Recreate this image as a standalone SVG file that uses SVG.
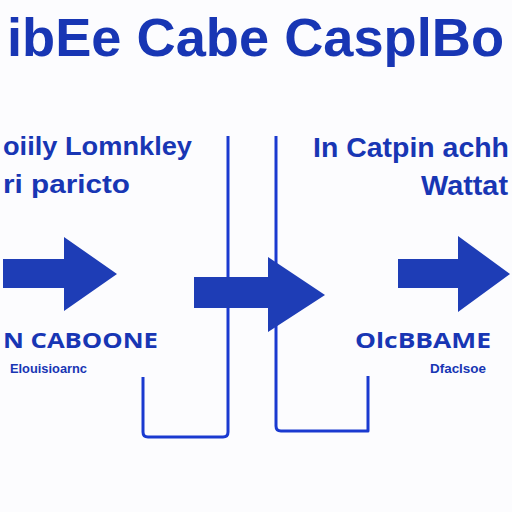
<svg xmlns="http://www.w3.org/2000/svg" width="512" height="512" viewBox="0 0 512 512">
<style>
.t{font-family:"Open Sans","Liberation Sans",sans-serif;font-weight:bold;fill:#1836b4}
.h{font-family:"Liberation Sans",Arial,sans-serif;font-weight:bold;fill:#1836b4}
.n{font-family:"Liberation Sans",Arial,sans-serif;font-weight:bold;fill:#1836b4}
.arr{fill:#1e3db6}
.ln{fill:none;stroke:#1a3ad0;stroke-width:3;stroke-linejoin:round}
</style>
<rect width="512" height="512" fill="#fcfcfe"/>
<g id="title"><text class="h" x="7" y="56" font-size="54" textLength="497" lengthAdjust="spacingAndGlyphs">ibEe Cabe CasplBo</text></g>
<g id="node-left">
<text class="n" x="3" y="155" font-size="25" textLength="189" lengthAdjust="spacingAndGlyphs">oiily Lomnkley</text>
<text class="n" x="3" y="193" font-size="25" textLength="127" lengthAdjust="spacingAndGlyphs">ri paricto</text>
<text class="t" x="3" y="348" font-size="21" textLength="155" lengthAdjust="spacingAndGlyphs">N CABOONE</text>
<text class="n" x="10" y="373" font-size="12" textLength="77" lengthAdjust="spacingAndGlyphs">Elouisioarnc</text>
</g>
<g id="node-right">
<text class="n" x="313" y="157" font-size="28" textLength="196" lengthAdjust="spacingAndGlyphs">In Catpin achh</text>
<text class="n" x="421" y="195" font-size="28" textLength="87" lengthAdjust="spacingAndGlyphs">Wattat</text>
<text class="t" x="355" y="348" font-size="21" textLength="136" lengthAdjust="spacingAndGlyphs">OlcBBAME</text>
<text class="n" x="430" y="373" font-size="12" textLength="56" lengthAdjust="spacingAndGlyphs">Dfaclsoe</text>
</g>
<g id="connectors">
<path class="ln" d="M143 377 V432 Q143 437 148 437 H223 Q228 437 228 432 V136"/>
<path class="ln" d="M276 136 V426 Q276 431 281 431 H368 V376"/>
<polygon class="arr" points="3,259 64,259 64,237 117,274 64,311 64,288 3,288"/>
<polygon class="arr" points="194,277 268,277 268,257 325,295 268,332 268,308 194,308"/>
<polygon class="arr" points="398,259 458,259 458,236 510,274 458,312 458,288 398,288"/>
</g>
</svg>
